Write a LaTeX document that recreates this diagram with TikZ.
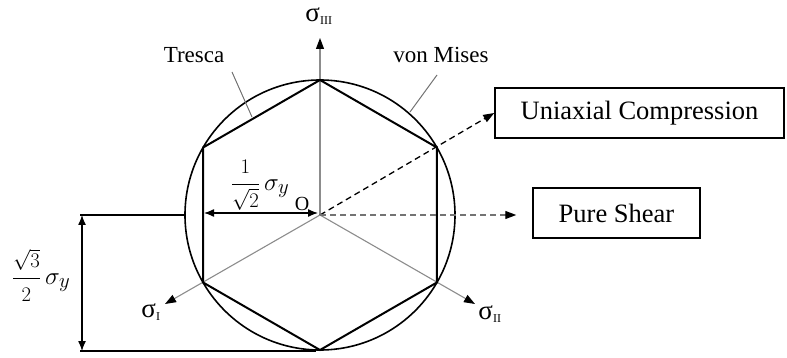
\documentclass[tikz,border=0pt]{standalone}
\usepackage{fontspec}
\setmainfont{Liberation Serif}
\usetikzlibrary{arrows.meta}
\newcommand{\sgy}{\sigma_{\raisebox{0pt}{\fontsize{21}{21}\selectfont$y$}}}
\newcommand{\myfrac}[2]{{\displaystyle\frac{\scriptstyle #1}{\scriptstyle #2}}}
\begin{document}
\begin{tikzpicture}[x=1pt,y=-1pt,
  hexline/.style={line width=2pt, line join=miter},
  vmcircle/.style={line width=1.6pt},
  axisline/.style={draw=black!45, line width=1.1pt, -{Triangle[length=11pt,width=8pt,color=black]}},
  leader/.style={draw=black!55, line width=1pt},
  dimline/.style={line width=1.3pt, {Latex[length=10pt,width=8pt]}-{Latex[length=10pt,width=8pt]}},
  extline/.style={line width=1.3pt},
  boxnode/.style={draw, line width=1.5pt, inner sep=0pt, font=\fontsize{26.5}{30}\selectfont},
  lbl/.style={inner sep=0pt, font=\fontsize{23}{27}\selectfont},
  siglbl/.style={inner sep=0pt, font=\fontsize{27}{30}\selectfont},
  mathlbl/.style={inner sep=0pt, font=\fontsize{28}{32}\selectfont},
  dasharrow/.style={dash pattern=on 6pt off 4pt, line width=1.3pt, -{Triangle[length=11pt,width=8pt,color=black]}}
]
\useasboundingbox (0,0) rectangle (787,358);

% centre and hexagon vertices
\coordinate (O) at (320,215);
\coordinate (V1) at (320,80);
\coordinate (V2) at (436.9,147.5);
\coordinate (V3) at (436.9,282.5);
\coordinate (V4) at (320,350);
\coordinate (V5) at (203.1,282.5);
\coordinate (V6) at (203.1,147.5);

% axes
\coordinate (S3) at (320,38);
\coordinate (S1) at (165,304);
\coordinate (S2) at (475,304);
\draw[axisline] (O) -- (S3);
\draw[axisline] (O) -- (S1);
\draw[axisline] (O) -- (S2);
\node[siglbl] (l3) at (319,16) {σ\textsubscript{\fontsize{12}{12}\selectfont III}};
\node[siglbl] (l1) at (151,312) {σ\textsubscript{\fontsize{12}{12}\selectfont I}};
\node[siglbl] (l2) at (490,314) {σ\textsubscript{\fontsize{12}{12}\selectfont II}};

% von Mises circle and Tresca hexagon
\draw[vmcircle] (O) circle [radius=135pt];
\draw[hexline] (V1) -- (V2) -- (V3) -- (V4) -- (V5) -- (V6) -- cycle;

% labels with leaders
\node[lbl] (tresca) at (194,55) {Tresca};
\node[lbl] (vonmises) at (441,55) {von Mises};
\coordinate (t1) at (232,72);
\coordinate (t2) at (252,117);
\coordinate (m1) at (437,75);
\coordinate (m2) at (410,112);
\draw[leader] (t1) -- (t2);
\draw[leader] (m1) -- (m2);

% boxes
\node[boxnode, minimum width=289pt, minimum height=50pt] (uni) at (639.5,113) {Uniaxial Compression};
\node[boxnode, minimum width=167pt, minimum height=50pt] (shear) at (616.5,213) {Pure Shear};
\draw[dasharrow] (O) -- (uni.west);
\draw[dasharrow, draw=black!55] (O) -- ([xshift=-16pt]O -| shear.west);

% O label
\node[inner sep=0pt, font=\fontsize{20}{24}\selectfont] (olab) at (302,204) {O};

% dimension 1/sqrt2
\coordinate (d1) at (204,213);
\coordinate (d2) at (318,213);
\draw[dimline] (d1) -- (d2);
\node[mathlbl] (f1) at (260,185) {$\myfrac{1}{\sqrt{2}}\,\sgy$};

% dimension sqrt3/2
\coordinate (e1) at (80,215);
\coordinate (e2) at (185,215);
\coordinate (e3) at (80,351);
\coordinate (e4) at (316,351);
\coordinate (e5) at (82,215);
\coordinate (e6) at (82,351);
\draw[extline] (e1) -- (e2);
\draw[extline] (e3) -- (e4);
\draw[dimline] (e5) -- (e6);
\node[mathlbl] (f2) at (41,275) {$\myfrac{\sqrt{3}}{2}\,\sgy$};
\end{tikzpicture}
\end{document}
